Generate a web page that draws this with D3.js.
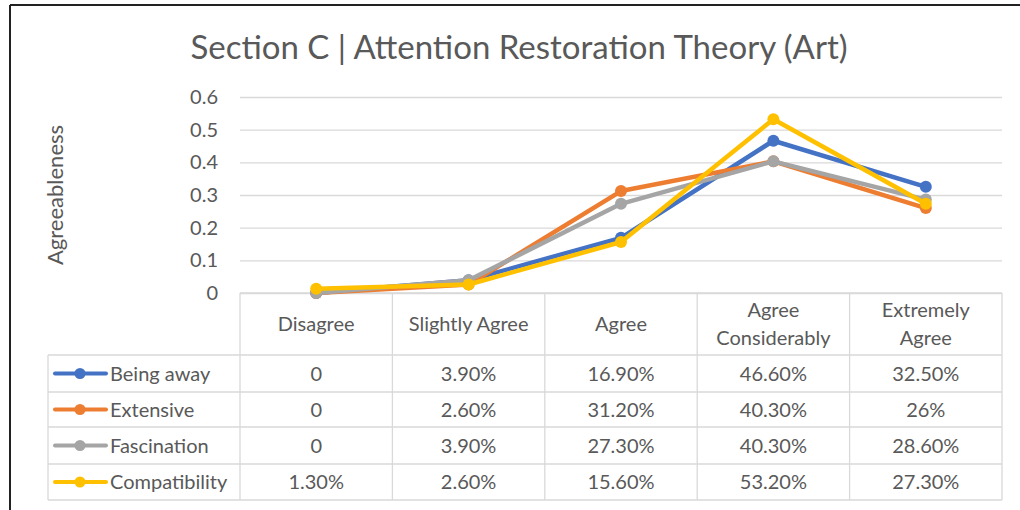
<!DOCTYPE html>
<html>
<head>
<meta charset="utf-8">
<script src="https://cdn.jsdelivr.net/npm/d3@7"></script>
<style>
  body { margin: 0; background: #fff; }
  text { font-family: Lato, "Open Sans", sans-serif; fill: #595959; }
</style>
</head>
<body>
<svg id="chart" width="1020" height="510"></svg>
<script>
// --- data ---
const categories = ["Disagree", "Slightly Agree", "Agree", "Agree Considerably", "Extremely Agree"];
const categoryLines = [["Disagree"], ["Slightly Agree"], ["Agree"], ["Agree", "Considerably"], ["Extremely", "Agree"]];
const seriesNames = ["Being away", "Extensive", "Fascination", "Compatibility"];
const beingAway = [0, 0.039, 0.169, 0.466, 0.325];
const extensive = [0, 0.026, 0.312, 0.403, 0.26];
const fascination = [0, 0.039, 0.273, 0.403, 0.286];
const compatibility = [0.013, 0.026, 0.156, 0.532, 0.273];
const yTicks = [0, 0.1, 0.2, 0.3, 0.4, 0.5, 0.6];

const seriesValues = [beingAway, extensive, fascination, compatibility];
const colors = ["#4472C4", "#ED7D31", "#A5A5A5", "#FFC000"];

const plot = {left: 240, right: 1002, top: 97, bottom: 293};
const tableLeft = 48;
const rowLines = [293, 355, 392, 427, 464, 500];
const gridColor = "#D9D9D9";
const fontSize = "20px";

const svg = d3.select("#chart");

// outer frame (only top and left show in the crop)
svg.append("line").attr("x1", 10).attr("x2", 1020).attr("y1", 5).attr("y2", 5)
    .attr("stroke", "#222").attr("stroke-width", 2);
svg.append("line").attr("x1", 10).attr("x2", 10).attr("y1", 5).attr("y2", 510)
    .attr("stroke", "#222").attr("stroke-width", 2);

// title
svg.append("text")
    .attr("x", 519).attr("y", 59)
    .attr("text-anchor", "middle")
    .style("font-size", "33px")
    .text("Section C | Attention Restoration Theory (Art)");

// scales
const x = d3.scaleBand().domain(categories).range([plot.left, plot.right]);
const y = d3.scaleLinear().domain([0, 0.6]).range([plot.bottom, plot.top]);

// gridlines + y labels
const yAxis = svg.append("g")
    .attr("transform", `translate(${plot.left},0)`)
    .call(d3.axisLeft(y).tickValues(yTicks).tickSize(-(plot.right - plot.left)).tickPadding(22)
        .tickFormat(d => d === 0 ? "0" : d3.format(".1f")(d)));
yAxis.select(".domain").remove();
yAxis.selectAll(".tick line").attr("stroke", gridColor).attr("stroke-width", 1.3);
yAxis.selectAll(".tick text").style("font-size", fontSize).attr("fill", "#595959")
    .style("font-family", "Lato, sans-serif");

// y axis title
svg.append("text")
    .attr("transform", `translate(63,${(plot.top + plot.bottom) / 2}) rotate(-90)`)
    .attr("text-anchor", "middle")
    .style("font-size", "22px")
    .text("Agreeableness");

// --- data table ---
const table = svg.append("g").attr("stroke", gridColor).attr("stroke-width", 1.3);
rowLines.forEach((ry, i) => {
    table.append("line")
        .attr("x1", i === 0 ? plot.left : tableLeft).attr("x2", plot.right)
        .attr("y1", ry).attr("y2", ry);
});
table.append("line").attr("x1", tableLeft).attr("x2", tableLeft)
    .attr("y1", rowLines[1]).attr("y2", rowLines[5]);
categories.forEach(c => {
    table.append("line").attr("x1", x(c)).attr("x2", x(c))
        .attr("y1", plot.bottom).attr("y2", rowLines[5]);
});
table.append("line").attr("x1", plot.right).attr("x2", plot.right)
    .attr("y1", plot.bottom).attr("y2", rowLines[5]);

// header
categories.forEach((c, i) => {
    const lines = categoryLines[i];
    const cy = (rowLines[0] + rowLines[1]) / 2;
    lines.forEach((l, j) => {
        svg.append("text")
            .attr("x", x(c) + x.bandwidth() / 2)
            .attr("y", cy + (j - (lines.length - 1) / 2) * 28 + 7)
            .attr("text-anchor", "middle")
            .style("font-size", fontSize)
            .text(l);
    });
});

function fmt(v) {
    if (v === 0) return "0";
    const p = v * 100;
    if (Math.abs(p - Math.round(p)) < 1e-9) return Math.round(p) + "%";
    return p.toFixed(2) + "%";
}

// rows
seriesNames.forEach((name, i) => {
    const cy = (rowLines[i + 1] + rowLines[i + 2]) / 2;
    svg.append("line").attr("x1", 55).attr("x2", 106).attr("y1", cy).attr("y2", cy)
        .attr("stroke", colors[i]).attr("stroke-width", 4).attr("stroke-linecap", "round");
    svg.append("circle").attr("cx", 80).attr("cy", cy).attr("r", 5.5).attr("fill", colors[i]);
    svg.append("text").attr("x", 110).attr("y", cy + 7)
        .style("font-size", fontSize).text(name);
    seriesValues[i].forEach((v, j) => {
        svg.append("text")
            .attr("x", x(categories[j]) + x.bandwidth() / 2)
            .attr("y", cy + 7)
            .attr("text-anchor", "middle")
            .style("font-size", fontSize)
            .text(fmt(v));
    });
});

// --- lines ---
const line = d3.line()
    .x((d, j) => x(categories[j]) + x.bandwidth() / 2)
    .y(d => y(d));

seriesValues.forEach((vals, i) => {
    const g = svg.append("g");
    g.append("path").datum(vals)
        .attr("d", line)
        .attr("fill", "none")
        .attr("stroke", colors[i])
        .attr("stroke-width", 4.5)
        .attr("stroke-linejoin", "round");
    g.selectAll("circle").data(vals).join("circle")
        .attr("cx", (d, j) => x(categories[j]) + x.bandwidth() / 2)
        .attr("cy", d => y(d))
        .attr("r", 6)
        .attr("fill", colors[i]);
});
</script>
</body>
</html>
